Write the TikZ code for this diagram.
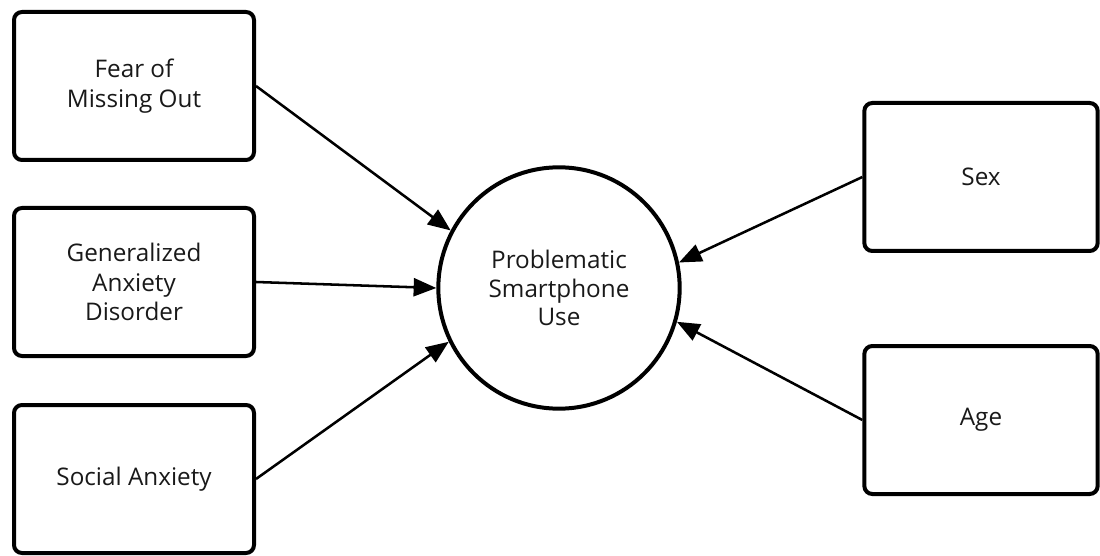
\documentclass[tikz,border=0pt]{standalone}
\usepackage{fontspec}
\setmainfont{Open Sans}
\usetikzlibrary{arrows.meta,positioning}
\tikzset{
    factor/.style = {
        draw,
        line width=3pt,
        rounded corners=6pt,
        minimum width=180pt,
        minimum height=111pt,
        align=center,
        font=\fontsize{18.2}{22}\selectfont,
        text=black!90,
        },
    outcome/.style = {
        draw,
        circle,
        line width=3pt,
        minimum size=181pt,
        align=center,
        font=\fontsize{18.2}{21.5}\selectfont,
        text=black!90,
        },
    effect/.style = {
        draw,
        line width=1.9pt,
        -{Triangle[length=17pt, width=13.5pt]},
        },
}
\begin{document}
\begin{tikzpicture}[x=0.75pt, y=-0.75pt]
            \useasboundingbox (0,0) rectangle (1100,556);

            % Outcome
            \node [outcome] (psu) at (559,288) {Problematic\\Smartphone\\Use};

            % Predictors
            \node [factor] (fomo) at (134,86) {Fear of\\Missing Out};
            \node [factor] (gad) at (134,282) {Generalized\\Anxiety\\Disorder};
            \node [factor] (sa) at (134,479) {Social Anxiety};

            % Covariates
            \node [factor, minimum width=175pt] (sex) at (981,177) {Sex};
            \node [factor, minimum width=175pt] (age) at (981,420) {Age};

            \draw[effect] (fomo.east) -- (psu.152);
            \draw[effect] (gad.east) -- (psu.180);
            \draw[effect] (sa.east) -- (psu.206);

            \draw[effect] (sex.west) -- (psu.12);
            \draw[effect] (age.west) -- (psu.-16);
\end{tikzpicture}
\end{document}
